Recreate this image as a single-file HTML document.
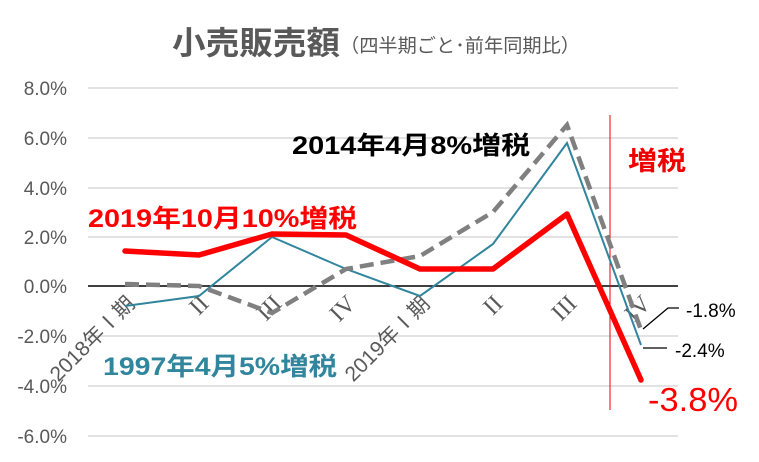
<!DOCTYPE html><html><head><meta charset="utf-8"><style>body{margin:0;background:#fff}svg{display:block}</style></head><body>
<svg width="759" height="462" xmlns="http://www.w3.org/2000/svg" font-family="Liberation Sans, Noto Sans CJK JP, sans-serif">
<rect width="759" height="462" fill="#fff"/>
<text x="172" y="54" font-size="32" font-weight="bold" fill="#595959" textLength="168" lengthAdjust="spacingAndGlyphs">小売販売額</text>
<text x="340" y="52" font-size="19" fill="#595959" textLength="240" lengthAdjust="spacingAndGlyphs">（四半期ごと･前年同期比）</text>
<g stroke="#d9d9d9" stroke-width="1.5">
<line x1="88" x2="678" y1="88" y2="88"/><line x1="88" x2="678" y1="138" y2="138"/><line x1="88" x2="678" y1="188" y2="188"/><line x1="88" x2="678" y1="237" y2="237"/><line x1="88" x2="678" y1="336" y2="336"/><line x1="88" x2="678" y1="386" y2="386"/><line x1="88" x2="678" y1="436" y2="436"/>
</g>
<line x1="88" x2="678" y1="286" y2="286" stroke="#000" stroke-width="1.5"/>
<g font-size="19" fill="#595959" text-anchor="end">
<text x="67" y="95">8.0%</text><text x="67" y="145">6.0%</text><text x="67" y="195">4.0%</text><text x="67" y="244">2.0%</text><text x="67" y="293">0.0%</text><text x="67" y="343">-2.0%</text><text x="67" y="393">-4.0%</text><text x="67" y="443">-6.0%</text>
</g>
<g font-size="21" fill="#595959" text-anchor="end">
<text transform="translate(136,305) rotate(-45)">2018年Ⅰ期</text>
<text transform="translate(210,305) rotate(-45)" font-family="Liberation Serif, serif" font-size="24">II</text>
<text transform="translate(283,305) rotate(-45)" font-family="Liberation Serif, serif" font-size="24">III</text>
<text transform="translate(357,305) rotate(-45)" font-family="Liberation Serif, serif" font-size="24">IV</text>
<text transform="translate(431,305) rotate(-45)">2019年Ⅰ期</text>
<text transform="translate(504,305) rotate(-45)" font-family="Liberation Serif, serif" font-size="24">II</text>
<text transform="translate(578,305) rotate(-45)" font-family="Liberation Serif, serif" font-size="24">III</text>
<text transform="translate(652,305) rotate(-45)" font-family="Liberation Serif, serif" font-size="24">IV</text>
</g>
<line x1="610" x2="610" y1="115" y2="410" stroke="#e00" stroke-width="1"/>
<polyline fill="none" stroke="#31859c" stroke-width="2" points="125,306 199,296 272,237 346,269 420,296 493,244 567,143 641,345"/>
<polyline fill="none" stroke="#808080" stroke-width="4.5" stroke-dasharray="14,7" points="125,284 199,286 272,313 346,269 420,256 493,212 567,125 641,330"/>
<polyline fill="none" stroke="#f00" stroke-width="5.5" stroke-linejoin="round" stroke-linecap="round" points="125,251 199,255 272,234 346,235 420,269 493,269 567,214 641,380"/>
<polyline fill="none" stroke="#000" stroke-width="1.3" points="643,329 668,308 679,308"/>
<polyline fill="none" stroke="#000" stroke-width="1.3" points="643,348 667,348"/>
<text x="686" y="317" font-size="19" fill="#000">-1.8%</text>
<text x="675" y="357" font-size="19" fill="#000">-2.4%</text>
<text x="648" y="411" font-size="33" fill="#f00" textLength="90" lengthAdjust="spacingAndGlyphs">-3.8%</text>
<text x="628" y="170" font-size="26" font-weight="bold" fill="#e00" textLength="58" lengthAdjust="spacingAndGlyphs">増税</text>
<text x="292" y="154" font-size="25" font-weight="bold" fill="#000" textLength="238" lengthAdjust="spacingAndGlyphs">2014年4月8%増税</text>
<text x="88" y="227" font-size="25" font-weight="bold" fill="#f00" textLength="269" lengthAdjust="spacingAndGlyphs">2019年10月10%増税</text>
<text x="103" y="375" font-size="25" font-weight="bold" fill="#31859c" textLength="234" lengthAdjust="spacingAndGlyphs">1997年4月5%増税</text>
</svg>
</body></html>
